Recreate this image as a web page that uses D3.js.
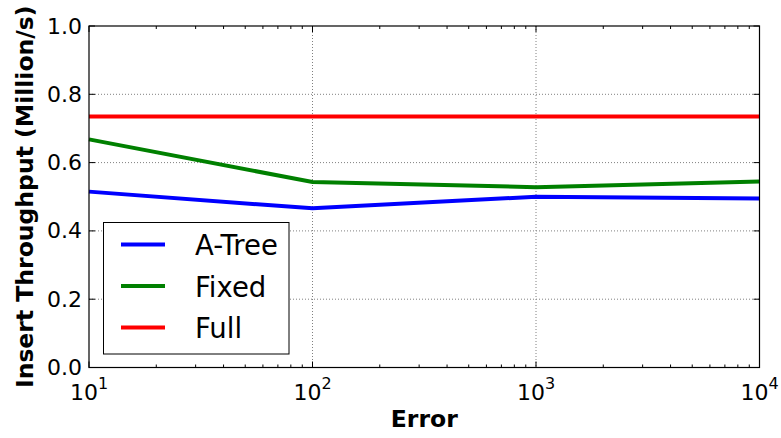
<!DOCTYPE html>
<html>
<head>
<meta charset="utf-8">
<script src="https://cdn.jsdelivr.net/npm/d3@7"></script>
<style>
  body { margin: 0; background: #fff; }
  text { font-family: "DejaVu Sans", sans-serif; }
</style>
</head>
<body>
<div id="chart"></div>
<script>
// données
const errors = [10, 100, 1000, 10000];
const aTree = [0.515, 0.466, 0.500, 0.495];
const fixed = [0.668, 0.543, 0.528, 0.545];
const full = [0.735, 0.735, 0.735, 0.735];
const seriesNames = ['A-Tree', 'Fixed', 'Full'];
const seriesColors = ['#0000ff', '#008000', '#ff0000'];
const yTicks = [0, 0.2, 0.4, 0.6, 0.8, 1.0];
const xTicks = [10, 100, 1000, 10000];

const svgWidth = 781, svgHeight = 438;
const margin = { top: 26, right: 21.5, bottom: 70.5, left: 89 };
const width = svgWidth - margin.left - margin.right,
    height = svgHeight - margin.top - margin.bottom;

const svg = d3.select('#chart')
    .append('svg')
    .attr('width', svgWidth)
    .attr('height', svgHeight);

const g = svg.append('g')
    .attr('transform', `translate(${margin.left},${margin.top})`);

const x = d3.scaleLog().domain([10, 10000]).range([0, width]);
const y = d3.scaleLinear().domain([0, 1]).range([height, 0]);

// grille pointillée
g.append('g')
    .selectAll('line')
    .data(xTicks.slice(1, -1))
    .join('line')
    .attr('x1', d => x(d)).attr('x2', d => x(d))
    .attr('y1', 0).attr('y2', height)
    .attr('stroke', '#808080')
    .attr('stroke-width', 1)
    .attr('stroke-dasharray', '1,2');

g.append('g')
    .selectAll('line')
    .data(yTicks.slice(1, -1))
    .join('line')
    .attr('x1', 0).attr('x2', width)
    .attr('y1', d => y(d)).attr('y2', d => y(d))
    .attr('stroke', '#808080')
    .attr('stroke-width', 1)
    .attr('stroke-dasharray', '1,2');

// ticks mineurs (log)
const minor = [];
for (let e = 10; e < 10000; e *= 10) {
    for (let k = 2; k < 10; k++) minor.push(e * k);
}

const tickG = g.append('g').attr('stroke', '#000').attr('stroke-width', 1);
minor.forEach(v => {
    tickG.append('line').attr('x1', x(v)).attr('x2', x(v)).attr('y1', height).attr('y2', height - 3);
    tickG.append('line').attr('x1', x(v)).attr('x2', x(v)).attr('y1', 0).attr('y2', 3);
});
xTicks.forEach(v => {
    tickG.append('line').attr('x1', x(v)).attr('x2', x(v)).attr('y1', height).attr('y2', height - 6);
    tickG.append('line').attr('x1', x(v)).attr('x2', x(v)).attr('y1', 0).attr('y2', 6);
});
yTicks.forEach(v => {
    tickG.append('line').attr('x1', 0).attr('x2', 6).attr('y1', y(v)).attr('y2', y(v));
    tickG.append('line').attr('x1', width).attr('x2', width - 6).attr('y1', y(v)).attr('y2', y(v));
});

// labels des ticks
g.append('g')
    .selectAll('text')
    .data(yTicks)
    .join('text')
    .attr('x', -7)
    .attr('y', d => y(d) + 7.5)
    .attr('text-anchor', 'end')
    .attr('font-size', 22)
    .text(d => d.toFixed(1));

const xl = g.append('g')
    .selectAll('text')
    .data(xTicks)
    .join('text')
    .attr('x', d => x(d))
    .attr('y', height + 32)
    .attr('text-anchor', 'middle')
    .attr('font-size', 22);
xl.append('tspan').text('10');
xl.append('tspan')
    .attr('font-size', 16)
    .attr('dy', -11)
    .text(d => Math.round(Math.log10(d)));

// courbes
const line = d3.line()
    .x((d, i) => x(errors[i]))
    .y(d => y(d));

[aTree, fixed, full].forEach((vals, i) => {
    g.append('path')
        .datum(vals)
        .attr('d', line)
        .attr('fill', 'none')
        .attr('stroke', seriesColors[i])
        .attr('stroke-width', 4);
});

// cadre
g.append('rect')
    .attr('width', width)
    .attr('height', height)
    .attr('fill', 'none')
    .attr('stroke', '#000')
    .attr('stroke-width', 1.2);

// titres des axes
svg.append('text')
    .attr('x', margin.left + width / 2)
    .attr('y', 427)
    .attr('text-anchor', 'middle')
    .attr('font-size', 23.5)
    .attr('font-weight', 'bold')
    .text('Error');

svg.append('text')
    .attr('transform', `translate(33,${margin.top + height / 2}) rotate(-90)`)
    .attr('text-anchor', 'middle')
    .attr('font-size', 23.5)
    .attr('font-weight', 'bold')
    .text('Insert Throughput (Million/s)');

// légende
const legend = svg.append('g').attr('transform', 'translate(103.5,222.5)');
legend.append('rect')
    .attr('width', 185.5)
    .attr('height', 131.5)
    .attr('fill', '#fff')
    .attr('stroke', '#000')
    .attr('stroke-width', 1);

seriesNames.forEach((name, i) => {
    const ly = 22 + i * 41.5;
    legend.append('line')
        .attr('x1', 17.5).attr('x2', 61.5)
        .attr('y1', ly).attr('y2', ly)
        .attr('stroke', seriesColors[i])
        .attr('stroke-width', 4);
    legend.append('text')
        .attr('x', 91.5)
        .attr('y', ly + 10.5)
        .attr('font-size', 27.5)
        .text(name);
});
</script>
</body>
</html>
